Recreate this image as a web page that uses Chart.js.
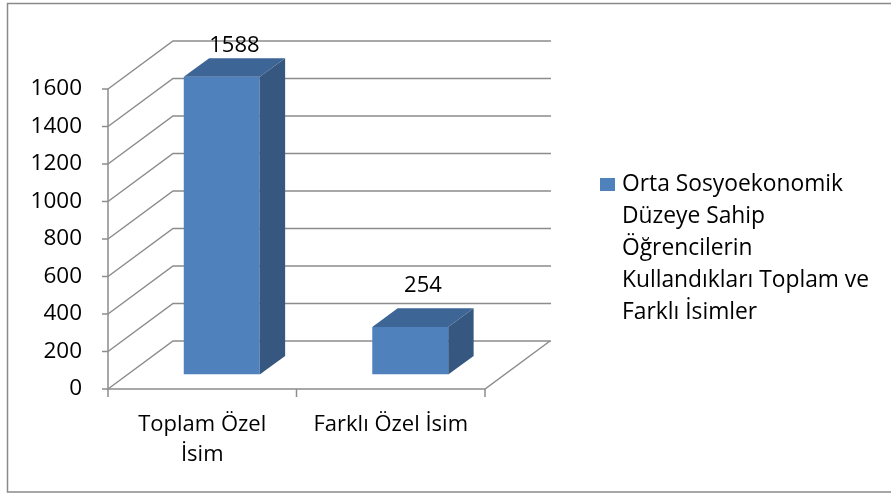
<!DOCTYPE html>
<html>
<head>
<meta charset="utf-8">
<script src="https://cdn.jsdelivr.net/npm/chart.js@4.4.0/dist/chart.umd.min.js"></script>
<style>
  body { margin: 0; background: #fff; }
</style>
</head>
<body>
<canvas id="barChart3d" width="891" height="495"></canvas>
<script>
// data
var categories = [['Toplam Özel', 'İsim'], 'Farklı Özel İsim'];
var values = [1588, 254];
var seriesName = ['Orta Sosyoekonomik', 'Düzeye Sahip', 'Öğrencilerin', 'Kullandıkları Toplam ve', 'Farklı İsimler'];
var yTicks = [0, 200, 400, 600, 800, 1000, 1200, 1400, 1600];

var FONT = '"Open Sans", "Liberation Sans", sans-serif';

// 3d look: wall depth and where the bars sit inside it
var depthX = 65, depthY = 48;
var frontX = 19.5, frontY = 14.4;
var boxX = 25.4, boxY = 18.7;

var box3d = {
    id: 'box3d',
    beforeDraw: function(chart) {
        var ctx = chart.ctx;
        ctx.save();
        ctx.strokeStyle = '#8a8a8a';
        ctx.lineWidth = 1.5;
        ctx.strokeRect(7.5, 3.5, 900, 488.5);
        ctx.restore();
    },
    beforeDatasetsDraw: function(chart) {
        var ctx = chart.ctx;
        var xs = chart.scales.x, ys = chart.scales.y;
        var L = xs.left, R = xs.right, B = ys.bottom;
        ctx.save();
        ctx.strokeStyle = '#8c8c8c';
        ctx.lineWidth = 1.5;
        yTicks.forEach(function(v) {
            var y = ys.getPixelForValue(v);
            ctx.beginPath();
            ctx.moveTo(L, y);
            ctx.lineTo(L + depthX, y - depthY);
            ctx.lineTo(R + depthX + 1, y - depthY);
            ctx.stroke();
            // small tick to the left
            ctx.beginPath();
            ctx.moveTo(L - 6, y);
            ctx.lineTo(L, y);
            ctx.stroke();
        });
        // floor + axis
        ctx.beginPath();
        ctx.moveTo(L, ys.top);
        ctx.lineTo(L, B);
        ctx.lineTo(R, B);
        ctx.lineTo(R + depthX, B - depthY);
        ctx.stroke();
        [L, (L + R) / 2, R].forEach(function(x) {
            ctx.beginPath();
            ctx.moveTo(x, B);
            ctx.lineTo(x, B + 8);
            ctx.stroke();
        });
        ctx.restore();

        // front faces are drawn by Chart.js, pushed back into the box
        ctx.save();
        ctx.translate(frontX, -frontY);
    },
    afterDatasetsDraw: function(chart) {
        var ctx = chart.ctx;
        ctx.restore();
        var meta = chart.getDatasetMeta(0);
        ctx.save();
        meta.data.forEach(function(bar, i) {
            var p = bar.getProps(['x', 'y', 'base', 'width'], true);
            var l = p.x - p.width / 2 + frontX;
            var r = p.x + p.width / 2 + frontX;
            var t = p.y - frontY;
            var b = p.base - frontY;
            // side
            ctx.fillStyle = '#36577f';
            ctx.beginPath();
            ctx.moveTo(r, t);
            ctx.lineTo(r + boxX, t - boxY);
            ctx.lineTo(r + boxX, b - boxY);
            ctx.lineTo(r, b);
            ctx.closePath();
            ctx.fill();
            // top
            ctx.fillStyle = '#3d6595';
            ctx.beginPath();
            ctx.moveTo(l, t);
            ctx.lineTo(l + boxX, t - boxY);
            ctx.lineTo(r + boxX, t - boxY);
            ctx.lineTo(r, t);
            ctx.closePath();
            ctx.fill();
            // value label
            ctx.fillStyle = '#000';
            ctx.font = '22px ' + FONT;
            ctx.textAlign = 'center';
            ctx.textBaseline = 'middle';
            var ly = Math.max(t - boxY - 23, chart.chartArea.top - 43);
            ctx.fillText(values[i], (l + r) / 2 + boxX / 2, ly);
        });
        ctx.restore();
    },
    afterDraw: function(chart) {
        var ctx = chart.ctx;
        ctx.save();
        ctx.fillStyle = '#4f81bd';
        ctx.fillRect(600, 178, 15, 13);
        ctx.fillStyle = '#000';
        ctx.font = '22.8px ' + FONT;
        ctx.textAlign = 'left';
        ctx.textBaseline = 'middle';
        seriesName.forEach(function(line, i) {
            ctx.fillText(line, 622, 185 + i * 32);
        });
        ctx.restore();
    }
};

var barChartCanvas = document.getElementById('barChart3d').getContext('2d');
new Chart(barChartCanvas, {
    type: 'bar',
    data: {
        labels: categories,
        datasets: [
            {
                label: seriesName.join(' '),
                data: values,
                backgroundColor: '#4f81bd',
                borderWidth: 0,
                categoryPercentage: 1,
                barPercentage: 0.403
            }
        ]
    },
    options: {
        responsive: false,
        animation: false,
        layout: { padding: { left: 0, right: 406, top: 89, bottom: 0 } },
        plugins: {
            legend: { display: false },
            tooltip: { enabled: false }
        },
        scales: {
            x: {
                grid: { display: false, drawTicks: false, tickLength: 0 },
                border: { display: false },
                ticks: {
                    color: '#000',
                    font: { family: FONT, size: 22, lineHeight: 1.4 },
                    padding: 20,
                    maxRotation: 0
                },
                afterFit: function(scale) { scale.height = 106; }
            },
            y: {
                min: 0,
                max: 1600,
                grid: { display: false, drawTicks: false, tickLength: 0 },
                border: { display: false },
                ticks: {
                    stepSize: 200,
                    color: '#000',
                    font: { family: FONT, size: 22.5 },
                    padding: 26,
                    callback: function(v) { return String(v); }
                },
                afterFit: function(scale) { scale.width = 108; }
            }
        }
    },
    plugins: [box3d]
});
</script>
</body>
</html>
